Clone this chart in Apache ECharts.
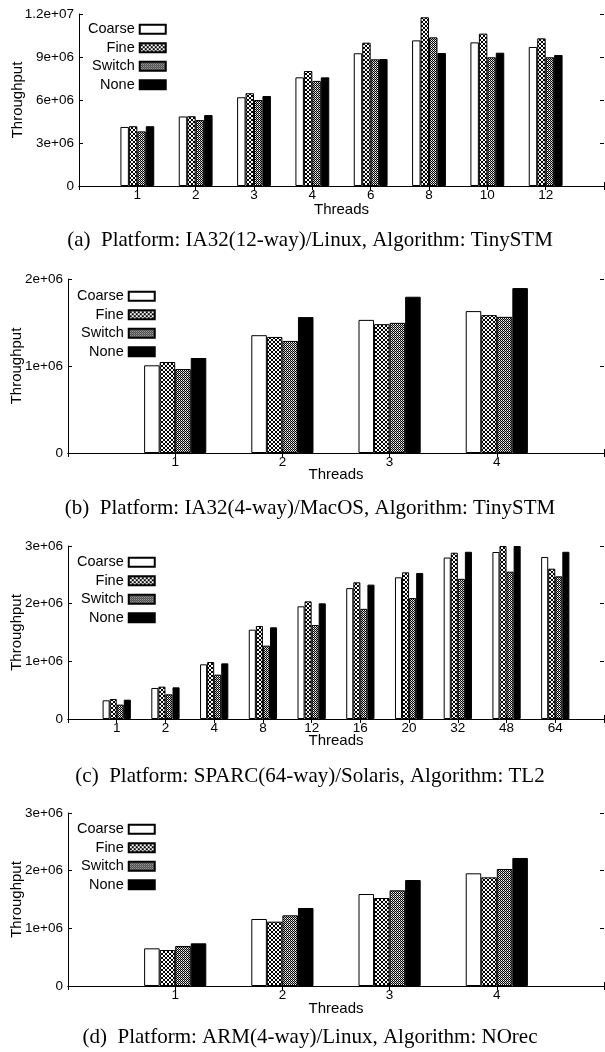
<!DOCTYPE html>
<html>
<head>
<meta charset="utf-8">
<script src="https://cdn.jsdelivr.net/npm/echarts@6/dist/echarts.min.js"></script>
<style>
  html, body { margin: 0; padding: 0; background: #fff; }
  #chart { width: 605px; height: 1052px; }
</style>
</head>
<body>
<div id="chart"></div>
<script>
// ---- data -----------------------------------------------------------
const seriesNames = ['Coarse', 'Fine', 'Switch', 'None'];

// (a) IA32(12-way)/Linux, TinySTM
const threadsA = ['1', '2', '3', '4', '6', '8', '10', '12'];
const coarseA = [4.12e6, 4.85e6, 6.19e6, 7.58e6, 9.26e6, 10.16e6, 10.02e6, 9.70e6];
const fineA   = [4.17e6, 4.87e6, 6.47e6, 8.02e6, 10.00e6, 11.77e6, 10.63e6, 10.30e6];
const switchA = [3.81e6, 4.60e6, 6.00e6, 7.33e6, 8.84e6, 10.37e6, 8.98e6, 8.98e6];
const noneA   = [4.17e6, 4.95e6, 6.28e6, 7.58e6, 8.86e6, 9.28e6, 9.30e6, 9.14e6];
const yTicksA = ['0', '3e+06', '6e+06', '9e+06', '1.2e+07'];

// (b) IA32(4-way)/MacOS, TinySTM
const threadsB = ['1', '2', '3', '4'];
const coarseB = [1.008e6, 1.354e6, 1.530e6, 1.631e6];
const fineB   = [1.046e6, 1.334e6, 1.481e6, 1.585e6];
const switchB = [0.965e6, 1.288e6, 1.496e6, 1.565e6];
const noneB   = [1.092e6, 1.562e6, 1.796e6, 1.896e6];
const yTicksB = ['0', '1e+06', '2e+06'];

// (c) SPARC(64-way)/Solaris, TL2
const threadsC = ['1', '2', '4', '8', '12', '16', '20', '32', '48', '64'];
const coarseC = [0.324e6, 0.538e6, 0.948e6, 1.549e6, 1.954e6, 2.27e6, 2.457e6, 2.80e6, 2.896e6, 2.81e6];
const fineC   = [0.347e6, 0.561e6, 0.988e6, 1.613e6, 2.04e6, 2.37e6, 2.543e6, 2.884e6, 3.0e6, 2.607e6];
const switchC = [0.249e6, 0.428e6, 0.769e6, 1.272e6, 1.63e6, 1.91e6, 2.098e6, 2.43e6, 2.555e6, 2.474e6];
const noneC   = [0.335e6, 0.549e6, 0.965e6, 1.590e6, 2.006e6, 2.33e6, 2.532e6, 2.90e6, 3.0e6, 2.90e6];
const yTicksC = ['0', '1e+06', '2e+06', '3e+06'];

// (d) ARM(4-way)/Linux, NOrec
const threadsD = ['1', '2', '3', '4'];
const coarseD = [0.653e6, 1.162e6, 1.595e6, 1.954e6];
const fineD   = [0.624e6, 1.116e6, 1.526e6, 1.884e6];
const switchD = [0.694e6, 1.225e6, 1.659e6, 2.029e6];
const noneD   = [0.740e6, 1.353e6, 1.838e6, 2.220e6];
const yTicksD = ['0', '1e+06', '2e+06', '3e+06'];

const captions = [
  '(a)  Platform: IA32(12-way)/Linux, Algorithm: TinySTM',
  '(b)  Platform: IA32(4-way)/MacOS, Algorithm: TinySTM',
  '(c)  Platform: SPARC(64-way)/Solaris, Algorithm: TL2',
  '(d)  Platform: ARM(4-way)/Linux, Algorithm: NOrec'
];

// ---- fill patterns ---------------------------------------------------
function makePattern(rows, shade) {
  const c = document.createElement('canvas');
  c.width = rows[0].length;
  c.height = rows.length;
  const ctx = c.getContext('2d');
  rows.forEach((r, y) => {
    for (let x = 0; x < r.length; x++) {
      ctx.fillStyle = r[x] === '#' ? '#000' : (r[x] === '+' ? shade : '#fff');
      ctx.fillRect(x, y, 1, 1);
    }
  });
  return { image: c, repeat: 'repeat' };
}
const fineFill = makePattern(['#..#', '.##.', '.##.', '#..#'], '#888');
const switchFill = makePattern(['#.', '+#'], '#b0b0b0');

const fills = ['#ffffff', fineFill, switchFill, '#000000'];

// ---- layout of the four panels --------------------------------------
const panels = [
  { cats: threadsA, vals: [coarseA, fineA, switchA, noneA], ticks: yTicksA, max: 1.2e7, step: 3e6,
    grid: { left: 79, top: 14, width: 525, height: 172 }, yGap: 54, xGap: 16, legend: { left: 88, top: 21 }, capY: 240 },
  { cats: threadsB, vals: [coarseB, fineB, switchB, noneB], ticks: yTicksB, max: 2e6, step: 1e6,
    grid: { left: 68, top: 279, width: 536, height: 174 }, yGap: 44, xGap: 14.5, legend: { left: 77, top: 288 }, capY: 508 },
  { cats: threadsC, vals: [coarseC, fineC, switchC, noneC], ticks: yTicksC, max: 3e6, step: 1e6,
    grid: { left: 68, top: 546, width: 536, height: 173 }, yGap: 44, xGap: 14.5, legend: { left: 77, top: 554 }, capY: 776 },
  { cats: threadsD, vals: [coarseD, fineD, switchD, noneD], ticks: yTicksD, max: 3e6, step: 1e6,
    grid: { left: 68, top: 813, width: 536, height: 173 }, yGap: 44, xGap: 15, legend: { left: 77, top: 821 }, capY: 1037 }
];

const sans = 'Liberation Sans';
const grid = [], xAxis = [], yAxis = [], series = [], legend = [], graphic = [];

panels.forEach((p, i) => {
  grid.push(Object.assign({ outerBoundsMode: 'none', containLabel: false }, p.grid));
  // empty slots at both ends keep the groups off the frame edges
  const axisCats = [''].concat(p.cats, ['']);
  xAxis.push({
    type: 'category', gridIndex: i, data: axisCats, boundaryGap: false,
    name: 'Threads', nameLocation: 'middle', nameGap: p.xGap, nameMoveOverlap: false,
    nameTextStyle: { fontFamily: sans, fontSize: 15, color: '#000' },
    axisLine: { lineStyle: { color: '#000', width: 1 } },
    axisTick: { inside: true, length: 4, lineStyle: { color: '#000' } },
    axisLabel: { fontFamily: sans, fontSize: 13.5, color: '#000', margin: 2, interval: 0 },
    splitLine: { show: false }
  });
  xAxis.push({
    type: 'category', gridIndex: i, data: axisCats, boundaryGap: false, position: 'top',
    axisLine: { lineStyle: { color: '#000', width: 1 } },
    axisTick: { inside: true, length: 4, lineStyle: { color: '#000' } },
    axisLabel: { show: false }, splitLine: { show: false }
  });
  const ticks = p.ticks;
  yAxis.push({
    type: 'value', gridIndex: i, min: 0, max: p.max, interval: p.step,
    name: 'Throughput', nameLocation: 'middle', nameGap: p.yGap, nameRotate: 90,
    nameMoveOverlap: false,
    nameTextStyle: { fontFamily: sans, fontSize: 15, color: '#000' },
    axisLine: { show: true, lineStyle: { color: '#000', width: 1 } },
    axisTick: { show: true, inside: true, length: 4, lineStyle: { color: '#000' } },
    axisLabel: { fontFamily: sans, fontSize: 13.5, color: '#000', margin: 5,
      formatter: (v, idx) => ticks[idx] },
    splitLine: { show: false }
  });
  yAxis.push({
    type: 'value', gridIndex: i, min: 0, max: p.max, interval: p.step, position: 'right',
    axisLine: { show: false },
    axisTick: { show: true, inside: true, length: 4, lineStyle: { color: '#000' } },
    axisLabel: { show: false }, splitLine: { show: false }
  });
  seriesNames.forEach((name, k) => {
    series.push({
      type: 'bar', name: name,
      xAxisIndex: 2 * i, yAxisIndex: 2 * i,
      data: [null].concat(p.vals[k], [null]),
      barWidth: '14.5%', barGap: '0%',
      itemStyle: { color: fills[k], borderColor: '#000', borderWidth: 1 },
      emphasis: { disabled: true },
      animation: false
    });
  });
  legend.push({
    orient: 'vertical', align: 'right', left: p.legend.left, top: p.legend.top,
    padding: 0, itemGap: 2, itemWidth: 26, itemHeight: 9, icon: 'rect',
    data: seriesNames, selectedMode: false,
    textStyle: { fontFamily: sans, fontSize: 14.5, color: '#000', lineHeight: 16.5, padding: 0 }
  });
  graphic.push({
    type: 'text', x: 310, y: p.capY,
    style: { text: captions[i], fontFamily: 'Liberation Serif', fontSize: 21, fill: '#000',
      textAlign: 'center', textVerticalAlign: 'middle' }
  });
});

const chart = echarts.init(document.getElementById('chart'), null, { renderer: 'canvas' });
chart.setOption({
  animation: false,
  backgroundColor: '#fff',
  grid, xAxis, yAxis, series, legend, graphic
});
</script>
</body>
</html>
